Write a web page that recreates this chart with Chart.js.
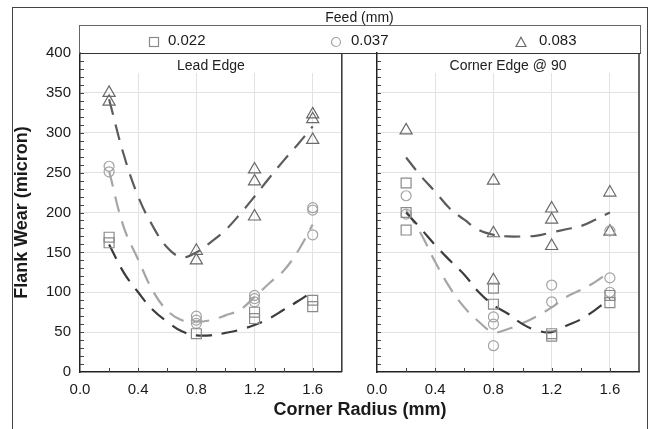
<!DOCTYPE html>
<html>
<head>
<meta charset="utf-8">
<script src="https://cdn.jsdelivr.net/npm/chart.js@4.4.0/dist/chart.umd.min.js"></script>
<style>
  html, body { margin: 0; padding: 0; background: #fff; }
  #wrap { position: relative; width: 656px; height: 429px; overflow: hidden; font-family: "Liberation Sans", Arial, sans-serif; color: #1a1a1a; }
  canvas { position: absolute; top: 0; }
  #frame { position: absolute; left: 12px; top: 7px; width: 636px; height: 440px; border: 1.5px solid #444; box-sizing: border-box; }
  #feedTitle { position: absolute; left: 79px; width: 561px; top: 9px; text-align: center; font-size: 14px; line-height: 16px; }
  #legendBox { position: absolute; left: 79px; top: 25px; width: 562px; height: 29px; border: 1px solid #666; border-bottom: 1.5px solid #333; box-sizing: border-box; }
  .lgTxt { position: absolute; top: 32px; font-size: 15px; line-height: 16px; }
  .lgSym { position: absolute; top: 34px; }
  #xTitle { position: absolute; left: 160px; width: 400px; top: 399px; text-align: center; font-size: 18px; font-weight: bold; line-height: 20px; }
</style>
</head>
<body>
<div id="wrap">
  <canvas id="c1" width="350" height="429" style="left:0px"></canvas>
  <canvas id="c2" width="306" height="429" style="left:350px"></canvas>
  <div id="frame"></div>
  <div id="feedTitle"></div>
  <div id="legendBox"></div>
  <div id="legendItems"></div>
  <div id="xTitle"></div>
</div>
<script>
// ---------- data ----------
const feedTitle = 'Feed (mm)';
const feeds = ['0.022', '0.037', '0.083'];
const panelTitles = ['Lead Edge', 'Corner Edge @ 90'];
const xAxisTitle = 'Corner Radius (mm)';
const yAxisTitle = 'Flank Wear (micron)';
const xTickValues = [0.0, 0.4, 0.8, 1.2, 1.6];
const yTickValues = [0, 50, 100, 150, 200, 250, 300, 350, 400];

// Lead Edge measured points
const leadX022 = [0.2, 0.2, 0.8, 1.2, 1.2, 1.6, 1.6];
const leadY022 = [169, 162, 48, 75, 67, 90, 82];
const leadX037 = [0.2, 0.2, 0.8, 0.8, 0.8, 1.2, 1.2, 1.2, 1.6, 1.6, 1.6];
const leadY037 = [258, 251, 70, 65, 61, 96, 92, 88, 206, 203, 172];
const leadX083 = [0.2, 0.2, 0.8, 0.8, 1.2, 1.2, 1.2, 1.6, 1.6, 1.6];
const leadY083 = [350, 339, 152, 140, 254, 239, 195, 323, 317, 291];

// Corner Edge @ 90 measured points
const cornerX022 = [0.2, 0.2, 0.2, 0.8, 0.8, 1.2, 1.2, 1.6, 1.6];
const cornerY022 = [237, 200, 178, 105, 85, 48, 45, 96, 87];
const cornerX037 = [0.2, 0.2, 0.8, 0.8, 0.8, 1.2, 1.2, 1.6, 1.6, 1.6];
const cornerY037 = [221, 198, 69, 60, 33, 109, 88, 177, 118, 100];
const cornerX083 = [0.2, 0.8, 0.8, 0.8, 1.2, 1.2, 1.2, 1.6, 1.6];
const cornerY083 = [303, 240, 174, 115, 205, 191, 158, 225, 176];

// fitted curves
const fitX = [0.2, 0.3, 0.4, 0.5, 0.6, 0.7, 0.8, 0.9, 1.0, 1.1, 1.2, 1.3, 1.4, 1.5, 1.6];
const leadFit022 = [160, 125, 100, 78, 63, 51, 46, 46, 49, 53, 59, 67, 78, 89, 101];
const leadFit037 = [252, 182, 141, 102, 77, 65, 63, 65, 71, 78, 94, 111, 127, 152, 185];
const leadFit083 = [342, 273, 220, 183, 156, 144, 150, 163, 178, 198, 220, 243, 265, 286, 308];
const cornerFit022 = [200, 180, 159, 140, 122, 100, 84, 73, 60, 52, 50, 58, 66, 78, 92];
const cornerFit037 = [203, 174, 138, 106, 81, 63, 50, 54, 61, 70, 81, 94, 103, 113, 126];
const cornerFit083 = [269, 246, 226, 205, 191, 178, 172, 170, 170, 171, 175, 179, 183, 191, 200];

// ---------- styles ----------
const FONT = '"Liberation Sans", Arial, sans-serif';
const markerStyle = [
  { pointStyle: 'rect', radius: 7, color: '#8a8a8a' },
  { pointStyle: 'circle', radius: 5, color: '#a3a3a3' },
  { pointStyle: 'triangle', radius: 7, color: '#6a6a6a' }
];
const curveColors = ['#3c3c3c', '#a6a6a6', '#5c5c5c'];

function pts(xs, ys) { return xs.map((x, i) => ({ x: x, y: ys[i] })); }

function markerDs(xs, ys, k) {
  const m = markerStyle[k];
  return {
    type: 'line', data: pts(xs, ys), showLine: false,
    pointStyle: m.pointStyle, pointRadius: m.radius, pointHoverRadius: m.radius,
    pointBorderColor: m.color, pointBackgroundColor: 'rgba(0,0,0,0)', pointBorderWidth: 1.2,
    borderColor: m.color, order: 1
  };
}
function curveDs(ys, k) {
  return {
    type: 'line', data: pts(fitX, ys), showLine: true, fill: false,
    borderColor: curveColors[k], borderWidth: 2.2, borderDash: [16, 10],
    pointRadius: 0, tension: 0.4, order: 2
  };
}

const panelPlugin = {
  id: 'panel',
  beforeDatasetsDraw(chart, args, opts) {
    const { ctx, chartArea: a, scales } = chart;
    ctx.save();
    // blank strip behind the panel title
    ctx.fillStyle = '#fff';
    ctx.fillRect(a.left + 1, a.top + 1, a.right - a.left - 2, 19);
    ctx.fillStyle = '#222';
    ctx.font = '14px ' + FONT;
    ctx.textAlign = 'center';
    ctx.textBaseline = 'middle';
    ctx.fillText(opts.title, (a.left + a.right) / 2, a.top + 13);
    // inward minor ticks
    ctx.strokeStyle = '#444';
    ctx.lineWidth = 1;
    for (let v = 10; v < 400; v += 10) {
      const py = Math.round(scales.y.getPixelForValue(v)) + 0.5;
      ctx.beginPath(); ctx.moveTo(a.left, py); ctx.lineTo(a.left + 4, py); ctx.stroke();
    }
    for (let i = 1; i < 9; i++) {
      const px = Math.round(scales.x.getPixelForValue(i * 0.2)) + 0.5;
      ctx.beginPath(); ctx.moveTo(px, a.bottom); ctx.lineTo(px, a.bottom - 4); ctx.stroke();
    }
    // right border of the panel
    ctx.strokeStyle = '#333';
    ctx.lineWidth = 1.5;
    ctx.beginPath(); ctx.moveTo(a.right, a.top); ctx.lineTo(a.right, a.bottom); ctx.stroke();
    ctx.restore();
  }
};

function makeChart(id, title, datasets, showY, padRight, yWidth) {
  return new Chart(document.getElementById(id), {
    data: { datasets: datasets },
    plugins: [panelPlugin],
    options: {
      responsive: false, animation: false, events: [],
      layout: { padding: { top: 53, right: padRight, bottom: 0, left: 0 } },
      plugins: { legend: { display: false }, tooltip: { enabled: false }, panel: { title: title } },
      scales: {
        x: {
          type: 'linear', min: 0, max: 1.8,
          afterBuildTicks: s => { s.ticks = xTickValues.map(v => ({ value: v })); },
          afterFit: s => { s.height = 57; },
          ticks: { callback: v => Number(v).toFixed(1), color: '#1a1a1a', font: { size: 15, family: FONT }, padding: 9, maxRotation: 0, autoSkip: false },
          grid: { color: ctx => (ctx.tick && ctx.tick.value === 0) ? 'rgba(0,0,0,0)' : '#e2e2e2', lineWidth: 1, drawTicks: false },
          border: { display: true, color: '#222', width: 1.5 }
        },
        y: {
          type: 'linear', min: 0, max: 400,
          afterBuildTicks: s => { s.ticks = yTickValues.map(v => ({ value: v })); },
          afterFit: s => { s.width = yWidth; },
          ticks: { display: showY, color: '#1a1a1a', font: { size: 15, family: FONT }, padding: 9 },
          grid: { color: ctx => (ctx.tick && (ctx.tick.value === 0 || ctx.tick.value === 400)) ? 'rgba(0,0,0,0)' : '#e2e2e2', lineWidth: 1, drawTicks: false },
          border: { display: true, color: '#222', width: 1.5 },
          title: { display: showY, text: yAxisTitle, color: '#1a1a1a', font: { size: 18, weight: 'bold', family: FONT }, padding: { top: 11, bottom: 0 } }
        }
      }
    }
  });
}

makeChart('c1', panelTitles[0], [
  curveDs(leadFit022, 0), curveDs(leadFit037, 1), curveDs(leadFit083, 2),
  markerDs(leadX022, leadY022, 0), markerDs(leadX037, leadY037, 1), markerDs(leadX083, leadY083, 2)
], true, 8, 80);

makeChart('c2', panelTitles[1], [
  curveDs(cornerFit022, 0), curveDs(cornerFit037, 1), curveDs(cornerFit083, 2),
  markerDs(cornerX022, cornerY022, 0), markerDs(cornerX037, cornerY037, 1), markerDs(cornerX083, cornerY083, 2)
], false, 17, 27);

// ---------- legend & shared titles (HTML text) ----------
document.getElementById('feedTitle').textContent = feedTitle;
document.getElementById('xTitle').textContent = xAxisTitle;
const symPos = [148, 330, 515];
const txtPos = [168, 351, 539];
const symSvg = [
  '<svg width="12" height="12"><rect x="1.5" y="1.5" width="9" height="9" fill="none" stroke="#8a8a8a" stroke-width="1.2"/></svg>',
  '<svg width="12" height="12"><circle cx="6" cy="6" r="4.5" fill="none" stroke="#a3a3a3" stroke-width="1.2"/></svg>',
  '<svg width="12" height="12"><polygon points="6,1.2 11,10.5 1,10.5" fill="none" stroke="#6a6a6a" stroke-width="1.2"/></svg>'
];
const li = document.getElementById('legendItems');
feeds.forEach((f, i) => {
  const s = document.createElement('div');
  s.className = 'lgSym'; s.style.left = symPos[i] + 'px'; s.innerHTML = symSvg[i];
  li.appendChild(s);
  const t = document.createElement('div');
  t.className = 'lgTxt'; t.style.left = txtPos[i] + 'px'; t.textContent = f;
  li.appendChild(t);
});
</script>
</body>
</html>
